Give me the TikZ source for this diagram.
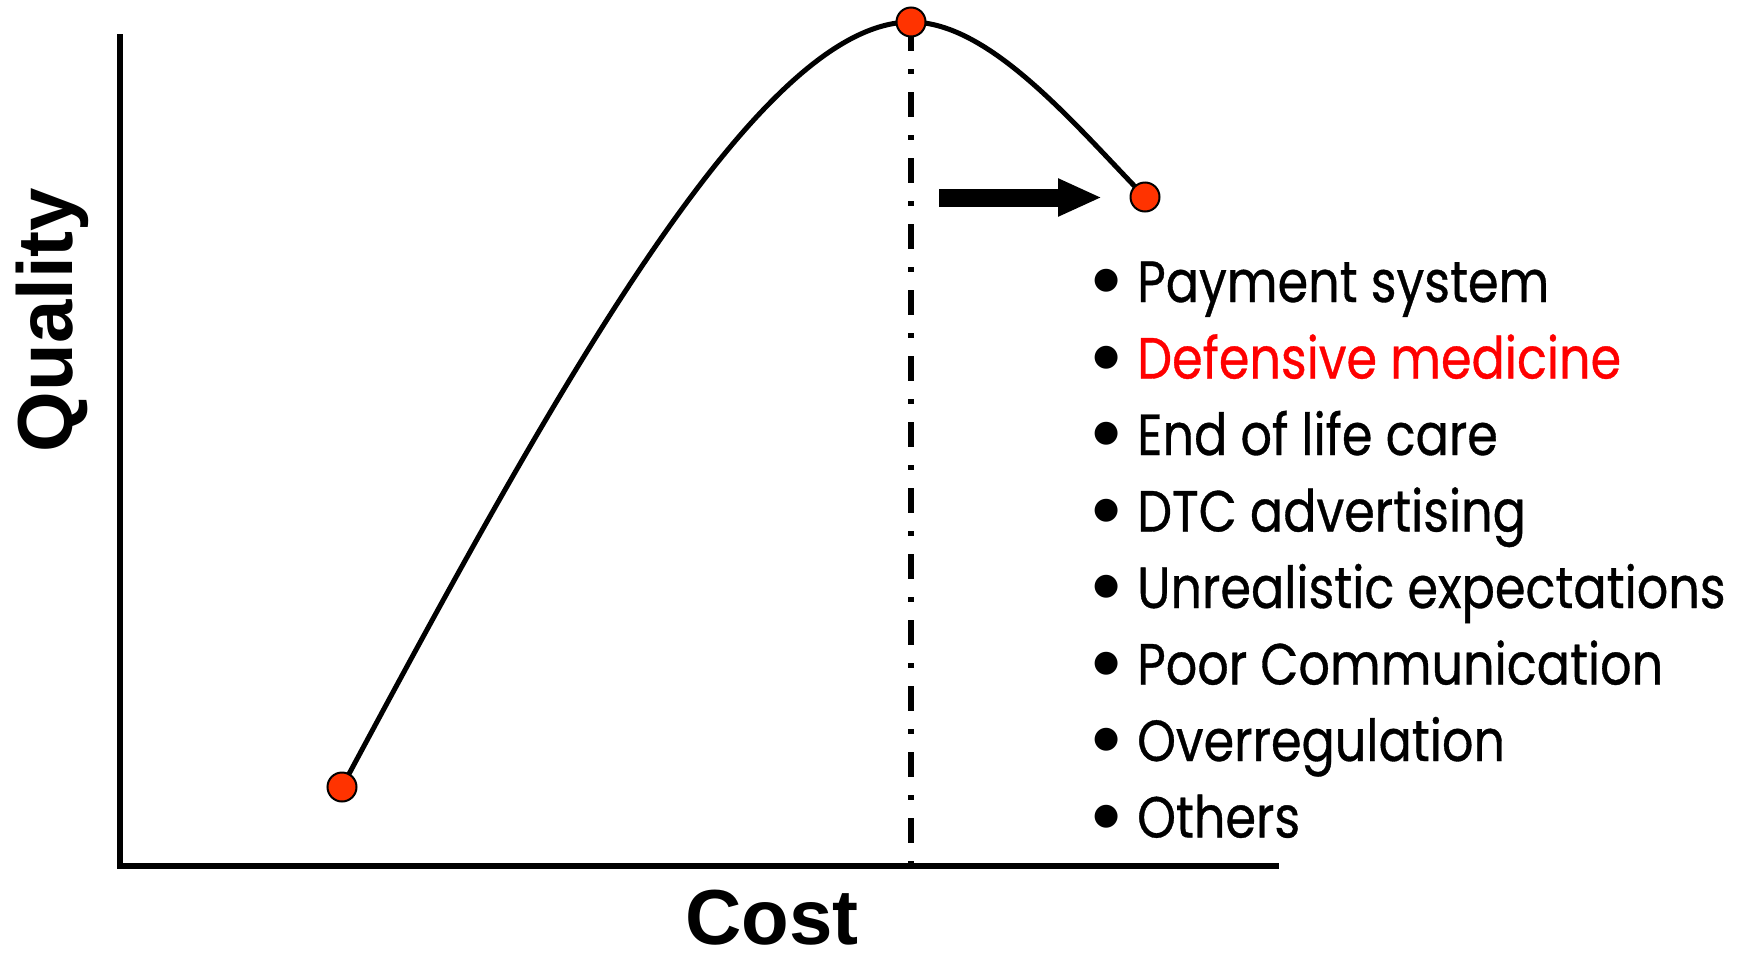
\documentclass[tikz,border=0pt]{standalone}
\usepackage{fontspec}
\setmainfont{Liberation Sans}
\newfontfamily\listfont[FakeStretch=0.85,FakeBold=0.6]{Poppins}
\newfontfamily\symfont{DejaVu Sans}
\usetikzlibrary{arrows.meta}
\definecolor{ptred}{HTML}{FF3300}
\newcommand{\bigbul}{\makebox[62pt][c]{\color{black}\raisebox{13.5pt}{\symfont\fontsize{30}{30}\selectfont ●}}}
\tikzset{
  axis/.style={line width=6pt, line join=miter},
  curve/.style={line width=5pt},
  dashdot/.style={line width=6pt, dash pattern=on 25pt off 18pt on 5pt off 18pt, dash phase=62pt},
  pt/.style={circle, draw=black, line width=2pt, fill=ptred, minimum size=29pt, inner sep=0pt},
  axlabel/.style={font=\bfseries\fontsize{78}{80}\selectfont, inner sep=0pt},
  item/.style={anchor=base west, inner sep=0pt, font=\listfont\fontsize{58}{60}\selectfont},
  bigarrow/.style={line width=18pt, -{Triangle[length=44pt,width=35pt]}}
}
\begin{document}
\begin{tikzpicture}[x=1pt,y=1pt]
\useasboundingbox (0,0) rectangle (1746,-956);
% axes
\coordinate (O) at (120,-866);
\coordinate (ytop) at (120,-34);
\coordinate (xend) at (1279,-866);
\draw[axis] (ytop) -- (O) -- (xend);
% points
\coordinate (pA) at (342,-787);
\coordinate (pT) at (911,-22);
\coordinate (pR) at (1145,-197);
\coordinate (vbot) at (911,-866);
\draw[dashdot] (pT) -- (vbot);
\draw[curve] (pA) .. controls (560,-380) and (760,-22) .. (pT)
             .. controls (990,-22) and (1075,-125) .. (pR);
\node[pt] (a) at (pA) {};
\node[pt] (t) at (pT) {};
\node[pt] (r) at (pR) {};
% arrow
\coordinate (as) at (939,-197.5);
\coordinate (ae) at (1102,-197.5);
\draw[bigarrow] (as) -- (ae);
% axis labels
\node[axlabel, rotate=90, anchor=base] (ql) at (72,-320) {Quality};
\node[axlabel, anchor=base] (cl) at (772,-944) {Cost};
% list
\foreach \i/\t/\c in {0/Payment system/black,1/Defensive medicine/red,2/End of life care/black,3/DTC advertising/black,4/Unrealistic expectations/black,5/Poor Communication/black,6/Overregulation/black,7/Others/black}{
  \pgfmathsetmacro{\yb}{-302-76.5*\i}
  \node[item, text=\c] (l\i) at (1075,\yb) {\bigbul\t};
}
\end{tikzpicture}
\end{document}
